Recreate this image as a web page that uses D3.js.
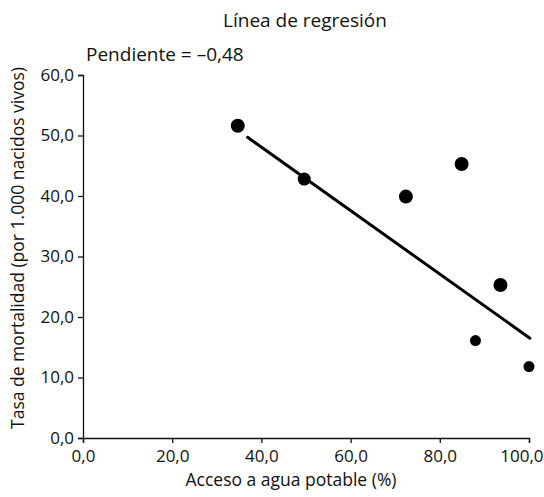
<!DOCTYPE html>
<html>
<head>
<meta charset="utf-8">
<script src="https://cdn.jsdelivr.net/npm/d3@7"></script>
<style>
  body { margin: 0; background: #fff; }
  svg text { font-family: "Open Sans", "DejaVu Sans", sans-serif; fill: #111; }
</style>
</head>
<body>
<svg id="chart" width="544" height="497"></svg>
<script>
// Datos
const acceso = [34.7, 49.6, 72.4, 84.9, 93.6, 88.0, 100.0];
const mortalidad = [51.6, 42.8, 39.9, 45.3, 25.3, 16.1, 11.8];
const markerR = [7, 6.5, 7, 7, 7, 5.5, 5.5];

// Linea de regresion (extremos)
const regX = [36.9, 100.2];
const regY = [49.7, 16.5];

const xTicks = [0, 20, 40, 60, 80, 100];
const yTicks = [0, 10, 20, 30, 40, 50, 60];

const svg = d3.select('#chart');
const margin = { left: 83, right: 15, top: 75, bottom: 59 };
const width = 544 - margin.left - margin.right;
const height = 497 - margin.top - margin.bottom;

const x = d3.scaleLinear().domain([0, 100]).range([margin.left, margin.left + width]);
const y = d3.scaleLinear().domain([0, 60]).range([margin.top + height, margin.top]);

const fmt = d => d3.format('.1f')(d).replace('.', ',');

// Ejes
const xAxis = svg.append('g')
  .attr('transform', 'translate(0,' + (margin.top + height) + ')')
  .call(d3.axisBottom(x).tickValues(xTicks).tickFormat(fmt).tickSizeOuter(0).tickSize(5));
xAxis.selectAll('text').attr('font-size', 17).attr('dy', '0.95em');
// la ultima etiqueta queda pegada al borde derecho
xAxis.selectAll('.tick').filter(d => d === 100).select('text')
  .attr('text-anchor', 'end').attr('x', 544 - x(100) - 1);

const yAxis = svg.append('g')
  .attr('transform', 'translate(' + margin.left + ',0)')
  .call(d3.axisLeft(y).tickValues(yTicks).tickFormat(fmt).tickSizeOuter(0).tickSize(5));
yAxis.selectAll('text').attr('font-size', 17).attr('x', -9);

svg.selectAll('.domain, .tick line').attr('stroke', '#111').attr('stroke-width', 1.3);
svg.selectAll('.tick text').style('font-family', '"Open Sans", "DejaVu Sans", sans-serif');

// Linea
svg.append('line')
  .attr('x1', x(regX[0])).attr('y1', y(regY[0]))
  .attr('x2', x(regX[1])).attr('y2', y(regY[1]))
  .attr('stroke', '#000')
  .attr('stroke-width', 3)
  .attr('stroke-linecap', 'round');

// Puntos
svg.append('g').selectAll('circle')
  .data(acceso)
  .enter().append('circle')
  .attr('cx', d => x(d))
  .attr('cy', (d, i) => y(mortalidad[i]))
  .attr('r', (d, i) => markerR[i])
  .attr('fill', '#000');

// Textos
svg.append('text')
  .attr('x', 305).attr('y', 27)
  .attr('text-anchor', 'middle')
  .attr('font-size', 19)
  .text('Línea de regresión');

svg.append('text')
  .attr('x', 86).attr('y', 61)
  .attr('font-size', 19)
  .text('Pendiente = –0,48');

svg.append('text')
  .attr('x', 291).attr('y', 486)
  .attr('text-anchor', 'middle')
  .attr('font-size', 17.5)
  .text('Acceso a agua potable (%)');

svg.append('text')
  .attr('transform', 'translate(24,248) rotate(-90)')
  .attr('text-anchor', 'middle')
  .attr('font-size', 17.5)
  .text('Tasa de mortalidad (por 1.000 nacidos vivos)');
</script>
</body>
</html>
